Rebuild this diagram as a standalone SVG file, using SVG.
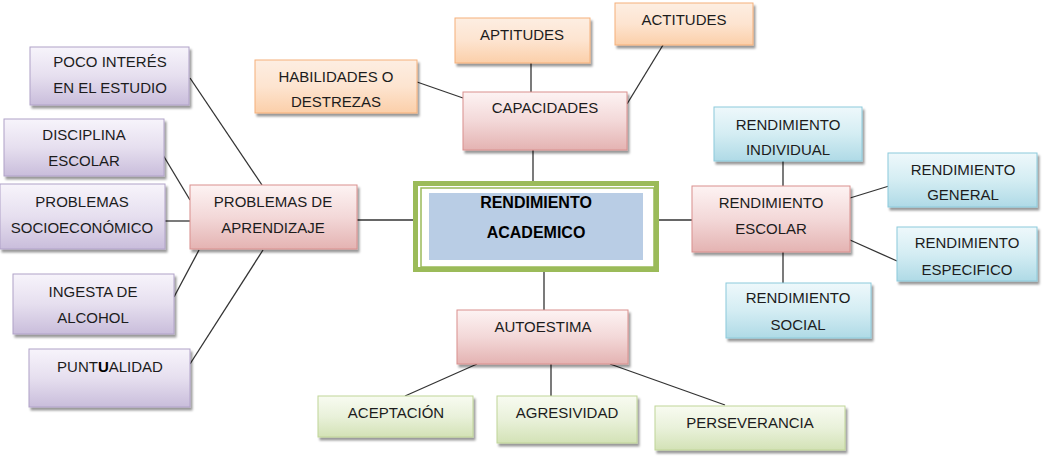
<svg xmlns="http://www.w3.org/2000/svg" width="1042" height="456" viewBox="0 0 1042 456">
<defs>
<linearGradient id="gP" x1="0" y1="0" x2="0" y2="1"><stop offset="0" stop-color="#f7f4fb"/><stop offset="0.5" stop-color="#e6dfef"/><stop offset="1" stop-color="#c9bddb"/></linearGradient>
<linearGradient id="gR" x1="0" y1="0" x2="0" y2="1"><stop offset="0" stop-color="#fdf3f3"/><stop offset="0.5" stop-color="#f3d8d8"/><stop offset="1" stop-color="#e4b3b2"/></linearGradient>
<linearGradient id="gO" x1="0" y1="0" x2="0" y2="1"><stop offset="0" stop-color="#fdeee2"/><stop offset="0.5" stop-color="#fde4d0"/><stop offset="1" stop-color="#fbcfa9"/></linearGradient>
<linearGradient id="gB" x1="0" y1="0" x2="0" y2="1"><stop offset="0" stop-color="#eef8fb"/><stop offset="0.5" stop-color="#d4edf3"/><stop offset="1" stop-color="#afdae6"/></linearGradient>
<linearGradient id="gG" x1="0" y1="0" x2="0" y2="1"><stop offset="0" stop-color="#f8fbf1"/><stop offset="0.5" stop-color="#e9f1da"/><stop offset="1" stop-color="#d3e2b6"/></linearGradient>
<filter id="sh" x="-10%" y="-10%" width="130%" height="140%"><feDropShadow dx="2" dy="3" stdDeviation="1.2" flood-color="#000" flood-opacity="0.4"/></filter>
</defs>
<style>
text{font-family:"Liberation Sans",Arial,sans-serif;font-size:15px;fill:#1c1c1c;text-anchor:middle}
.n rect{stroke-width:1;filter:url(#sh)}
.p rect{fill:url(#gP);stroke:#b0a2c8}
.r rect{fill:url(#gR);stroke:#d9908e}
.o rect{fill:url(#gO);stroke:#f5b07a}
.b rect{fill:url(#gB);stroke:#8ccadb}
.g rect{fill:url(#gG);stroke:#c0d598}
.c line{stroke:#333;stroke-width:1.3}
.bold{font-weight:bold;font-size:16px;fill:#000}
</style>
<rect width="1042" height="456" fill="#fff"/>
<g class="c" id="connectors">
<line x1="190" y1="78" x2="262" y2="185"/>
<line x1="163" y1="155" x2="190" y2="200"/>
<line x1="165" y1="221" x2="190" y2="221"/>
<line x1="174" y1="297" x2="199" y2="250"/>
<line x1="190" y1="364" x2="263" y2="250"/>
<line x1="357" y1="220" x2="413" y2="220"/>
<line x1="417" y1="82" x2="463" y2="98"/>
<line x1="531" y1="63" x2="531" y2="92"/>
<line x1="663" y1="45" x2="627" y2="104"/>
<line x1="533" y1="150" x2="533" y2="181"/>
<line x1="659" y1="220" x2="692" y2="220"/>
<line x1="783" y1="161" x2="783" y2="186"/>
<line x1="850" y1="198" x2="889" y2="186"/>
<line x1="850" y1="240" x2="897" y2="261"/>
<line x1="783" y1="252" x2="783" y2="283"/>
<line x1="544" y1="272" x2="544" y2="310"/>
<line x1="477" y1="364" x2="405" y2="396"/>
<line x1="551" y1="364" x2="551" y2="396"/>
<line x1="610" y1="364" x2="725" y2="405"/>
</g>
<g id="poco" class="n p"><rect x="30" y="47" width="159" height="58"/><text x="110" y="67">POCO INTERÉS</text><text x="110" y="93">EN EL ESTUDIO</text></g>
<g id="disciplina" class="n p"><rect x="4" y="119" width="160" height="57"/><text x="84" y="140">DISCIPLINA</text><text x="84" y="166">ESCOLAR</text></g>
<g id="socio" class="n p"><rect x="0" y="184" width="165" height="65"/><text x="82" y="207">PROBLEMAS</text><text x="82" y="233">SOCIOECONÓMICO</text></g>
<g id="ingesta" class="n p"><rect x="13" y="274" width="161" height="60"/><text x="93" y="297">INGESTA DE</text><text x="93" y="323">ALCOHOL</text></g>
<g id="puntualidad" class="n p"><rect x="29" y="349" width="161" height="58"/><text x="110" y="372">PUNT<tspan font-weight="bold" fill="#000">U</tspan>ALIDAD</text></g>
<g id="aprendizaje" class="n r"><rect x="190" y="185" width="167" height="64"/><text x="273" y="207">PROBLEMAS DE</text><text x="273" y="233">APRENDIZAJE</text></g>
<g id="habilidades" class="n o"><rect x="255" y="60" width="162" height="53"/><text x="336" y="82">HABILIDADES O</text><text x="336" y="107">DESTREZAS</text></g>
<g id="aptitudes" class="n o"><rect x="455" y="18" width="135" height="45"/><text x="522" y="40">APTITUDES</text></g>
<g id="actitudes" class="n o"><rect x="615" y="3" width="138" height="42"/><text x="684" y="25">ACTITUDES</text></g>
<g id="capacidades" class="n r"><rect x="463" y="92" width="164" height="58"/><text x="545" y="113">CAPACIDADES</text></g>
<g id="central">
<rect x="415.5" y="183.5" width="241" height="86" fill="#fff" stroke="#9bbb59" stroke-width="5"/>
<rect x="421" y="188" width="233" height="79" fill="#fff" stroke="#9bbb59" stroke-width="1.5"/>
<rect x="429" y="193" width="214" height="67" fill="#b9cde5"/>
<text class="bold" x="536" y="208">RENDIMIENTO</text>
<text class="bold" x="536" y="238">ACADEMICO</text>
</g>
<g id="escolar" class="n r"><rect x="692" y="186" width="158" height="66"/><text x="771" y="208">RENDIMIENTO</text><text x="771" y="234">ESCOLAR</text></g>
<g id="individual" class="n b"><rect x="714" y="107" width="148" height="54"/><text x="788" y="130">RENDIMIENTO</text><text x="788" y="155">INDIVIDUAL</text></g>
<g id="general" class="n b"><rect x="888" y="153" width="149" height="54"/><text x="963" y="175">RENDIMIENTO</text><text x="963" y="200">GENERAL</text></g>
<g id="especifico" class="n b"><rect x="897" y="227" width="140" height="54"/><text x="967" y="248">RENDIMIENTO</text><text x="967" y="275">ESPECIFICO</text></g>
<g id="social" class="n b"><rect x="726" y="283" width="145" height="55"/><text x="798" y="303">RENDIMIENTO</text><text x="798" y="330">SOCIAL</text></g>
<g id="autoestima" class="n r"><rect x="457" y="310" width="171" height="54"/><text x="543" y="332">AUTOESTIMA</text></g>
<g id="aceptacion" class="n g"><rect x="318" y="396" width="155" height="41"/><text x="396" y="418">ACEPTACIÓN</text></g>
<g id="agresividad" class="n g"><rect x="497" y="396" width="140" height="47"/><text x="567" y="418">AGRESIVIDAD</text></g>
<g id="perseverancia" class="n g"><rect x="655" y="406" width="190" height="44"/><text x="750" y="428">PERSEVERANCIA</text></g>
</svg>
